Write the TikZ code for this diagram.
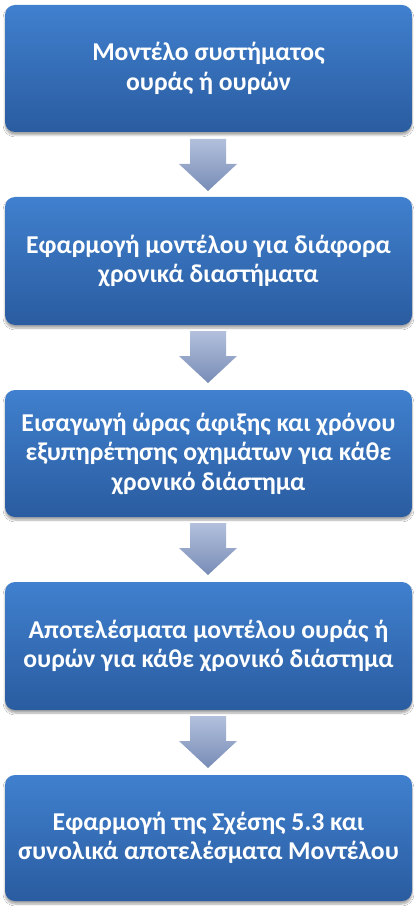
\documentclass[tikz,border=0pt]{standalone}
\usepackage{fontspec}
\setmainfont{Carlito}
\usetikzlibrary{shadows.blur}
\definecolor{boxtop}{RGB}{64,128,206}
\definecolor{boxbot}{RGB}{42,92,160}
\definecolor{arrtop}{RGB}{178,192,220}
\definecolor{arrbot}{RGB}{120,140,182}
\tikzset{
  stepbox/.style={rounded corners=10pt, top color=boxtop, bottom color=boxbot,
    blur shadow={shadow xshift=0pt, shadow yshift=-3pt, shadow blur steps=6, shadow opacity=35}},
  steptext/.style={text=white, font=\fontsize{25.7}{29.5}\selectfont\bfseries, align=center},
  downarrow/.style={top color=arrtop, bottom color=arrbot}
}
\begin{document}
\begin{tikzpicture}[x=1pt,y=-1pt]
\useasboundingbox[fill=white] (0,0) rectangle (419,909);
% boxes
\foreach \t/\b/\n in {5/132/b1,197/325/b2,390/517/b3,582/710/b4,775/901/b5}{
  \path[stepbox] (5,\t) rectangle (412,\b);
  \coordinate (\n) at (208.5,{(\t+\b)/2});
}
% arrows
\foreach \t in {139,331,523,716}{
  \path[downarrow] (190,\t) -- (226,\t) -- (226,\t+25) -- (237,\t+25) -- (208,\t+52) -- (179,\t+25) -- (190,\t+25) -- cycle;
}
\node[steptext] (t1) at (b1) {Μοντέλο συστήματος\\ουράς ή ουρών};
\node[steptext] (t2) at (b2) {Εφαρμογή μοντέλου για διάφορα\\χρονικά διαστήματα};
\node[steptext] (t3) at (b3) {Εισαγωγή ώρας άφιξης και χρόνου\\εξυπηρέτησης οχημάτων για κάθε\\χρονικό διάστημα};
\node[steptext] (t4) at (b4) {Αποτελέσματα μοντέλου ουράς ή\\ουρών για κάθε χρονικό διάστημα};
\node[steptext] (t5) at (b5) {Εφαρμογή της Σχέσης 5.3 και\\συνολικά αποτελέσματα Μοντέλου};
\end{tikzpicture}
\end{document}
